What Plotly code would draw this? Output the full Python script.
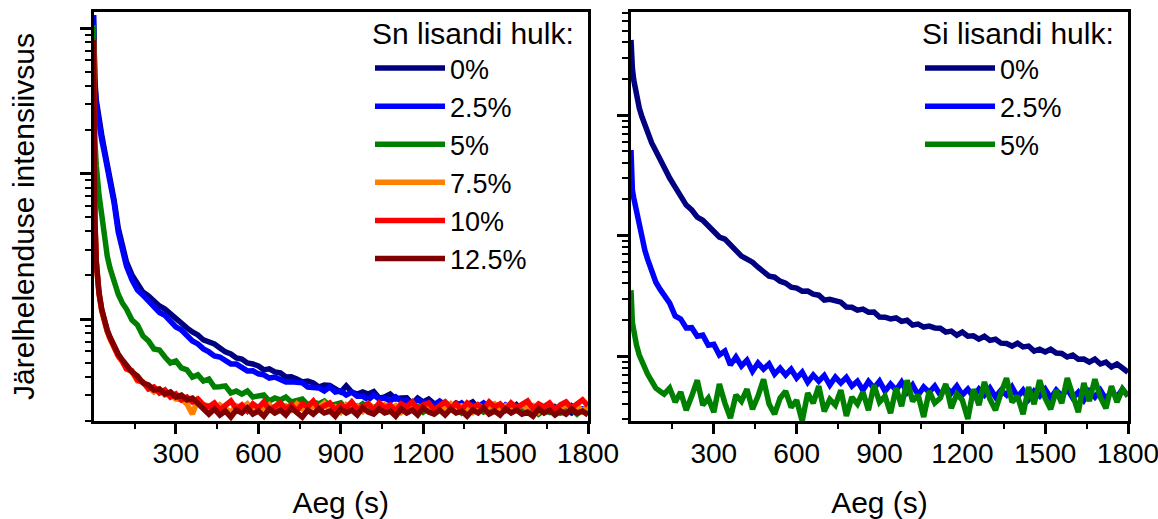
import plotly.graph_objects as go

# Sampling instants (s), shared by every decay curve
TIME_S = [0, 2, 5, 10, 15, 20, 30, 40, 50, 60, 75, 90, 105,
          120, 140, 160, 180, 200, 220, 240, 260, 280, 300, 320, 340, 360, 380, 400,
          420, 440, 460, 480, 500, 520, 540, 560, 580, 600, 620, 640, 660, 680, 700,
          720, 740, 760, 780, 800, 820, 840, 860, 880, 900, 920, 940, 960, 980, 1000,
          1020, 1040, 1060, 1080, 1100, 1120, 1140, 1160, 1180, 1200, 1220, 1240, 1260,
          1280, 1300, 1320, 1340, 1360, 1380, 1400, 1420, 1440, 1460, 1480, 1500, 1520,
          1540, 1560, 1580, 1600, 1620, 1640, 1660, 1680, 1700, 1720, 1740, 1760, 1780, 1800]

# Afterglow intensity (arb. units), Sn-doped samples
SN_0 = [1229, 706, 439, 320, 273, 233, 184, 145, 116, 90.3, 65.8, 42.2, 30.8,
        24.7, 20.1, 17.2, 15.3, 14.4, 13.3, 12.3, 11.7, 10.8, 10.2, 9.25, 8.68, 8.15, 7.77, 7.18,
        6.96, 6.74, 6.33, 5.94, 5.75, 5.40, 5.31, 4.99, 4.91, 4.75, 4.47, 4.54, 4.33, 4.26, 3.99,
        4.01, 3.87, 3.69, 3.75, 3.63, 3.41, 3.52, 3.50, 3.30, 3.15, 3.47, 3.15, 3.05, 3.15, 3.05,
        3.17, 2.86, 2.91, 3.05, 2.82, 2.86, 2.87, 2.61, 2.86, 2.69, 2.82, 2.61, 2.65,
        2.66, 2.49, 2.65, 2.53, 2.57, 2.69, 2.45, 2.44, 2.53, 2.37, 2.53, 2.45, 2.37,
        2.57, 2.37, 2.41, 2.26, 2.49, 2.41, 2.29, 2.49, 2.33, 2.37, 2.26, 2.45, 2.33, 2.41]
SN_2_5 = [1229, 652, 405, 295, 248, 215, 170, 138, 112, 87.5, 62.7, 39.6, 28.9,
          23.1, 18.6, 15.8, 14.6, 13.3, 12.1, 11.1, 10.6, 9.70, 8.82, 8.41, 7.65, 7.07, 6.74, 6.23,
          5.94, 5.57, 5.48, 5.15, 4.91, 4.90, 4.61, 4.40, 4.41, 4.20, 4.13, 3.93, 3.99, 3.81, 3.69,
          3.70, 3.63, 3.64, 3.41, 3.42, 3.36, 3.20, 3.41, 3.15, 3.20, 3.00, 3.15, 2.95, 2.95, 2.78,
          3.00, 2.82, 2.86, 2.73, 2.91, 2.73, 2.74, 2.61, 2.78, 2.65, 2.69, 2.57, 2.73,
          2.57, 2.58, 2.49, 2.65, 2.45, 2.57, 2.49, 2.65, 2.45, 2.49, 2.37, 2.57, 2.45,
          2.49, 2.37, 2.57, 2.41, 2.45, 2.29, 2.49, 2.37, 2.45, 2.33, 2.53, 2.37, 2.41, 2.33]
SN_5 = [1048, 320, 170, 114, 87.5, 71.2, 51.9, 34.9, 27.1, 22.4, 17.7, 14.8, 12.9,
        11.7, 9.85, 9.10, 7.65, 7.07, 6.23, 6.13, 5.48, 4.99, 5.15, 4.61, 4.47, 3.99, 4.13, 3.75,
        3.87, 3.41, 3.42, 3.47, 3.10, 3.20, 3.05, 3.20, 2.91, 2.95, 3.00, 2.73, 2.86, 2.78, 2.91,
        2.69, 2.73, 2.82, 2.57, 2.69, 2.61, 2.73, 2.53, 2.57, 2.65, 2.41, 2.57, 2.45, 2.61, 2.41,
        2.49, 2.53, 2.33, 2.49, 2.41, 2.57, 2.33, 2.41, 2.49, 2.29, 2.45, 2.37, 2.53,
        2.33, 2.41, 2.45, 2.26, 2.41, 2.33, 2.49, 2.29, 2.37, 2.45, 2.26, 2.41, 2.33,
        2.49, 2.29, 2.33, 2.41, 2.22, 2.37, 2.29, 2.45, 2.26, 2.33, 2.41, 2.22, 2.37, 2.29]
SN_7_5 = [827, 141, 46.5, 24.3, 18.3, 14.8, 11.3, 9.40, 8.15, 7.29, 6.23, 5.57, 5.07,
          4.54, 4.33, 3.75, 3.69, 3.36, 3.15, 3.30, 3.00, 3.05, 2.82, 2.80, 2.61, 2.22, 2.78, 2.57,
          2.53, 2.37, 2.57, 2.41, 2.29, 2.53, 2.45, 2.61, 2.33, 2.49, 2.41, 2.57, 2.29, 2.45, 2.53,
          2.37, 2.61, 2.41, 2.33, 2.53, 2.45, 2.65, 2.37, 2.49, 2.29, 2.57, 2.41, 2.53, 2.33, 2.61,
          2.45, 2.37, 2.57, 2.41, 2.53, 2.29, 2.49, 2.61, 2.37, 2.45, 2.57, 2.33, 2.49,
          2.41, 2.61, 2.37, 2.53, 2.45, 2.29, 2.57, 2.41, 2.49, 2.61, 2.37, 2.53, 2.33,
          2.45, 2.57, 2.41, 2.53, 2.29, 2.49, 2.61, 2.37, 2.45, 2.57, 2.41, 2.53, 2.33, 2.49]
SN_10 = [827, 145, 47.3, 24.7, 18.6, 15.1, 11.5, 9.56, 8.28, 7.41, 6.33, 5.57, 5.15,
         4.54, 4.40, 3.81, 3.69, 3.30, 3.41, 3.10, 3.25, 2.91, 3.05, 2.78, 2.91, 2.69, 2.82, 2.57,
         2.49, 2.65, 2.37, 2.53, 2.73, 2.41, 2.57, 2.33, 2.61, 2.45, 2.69, 2.37, 2.53, 2.65, 2.41,
         2.57, 2.33, 2.61, 2.49, 2.73, 2.41, 2.53, 2.65, 2.37, 2.57, 2.45, 2.69, 2.41, 2.53, 2.61,
         2.37, 2.65, 2.45, 2.57, 2.33, 2.61, 2.49, 2.69, 2.41, 2.57, 2.65, 2.37, 2.53,
         2.69, 2.45, 2.61, 2.37, 2.65, 2.49, 2.57, 2.41, 2.69, 2.49, 2.61, 2.37, 2.65,
         2.45, 2.57, 2.73, 2.41, 2.61, 2.49, 2.65, 2.37, 2.57, 2.69, 2.45, 2.61, 2.78, 2.53]
SN_12_5 = [827, 150, 48.8, 25.1, 18.9, 15.3, 11.7, 9.70, 8.41, 7.53, 6.43, 5.75, 5.23,
           4.83, 4.33, 4.06, 3.63, 3.52, 3.25, 3.30, 3.05, 3.15, 2.91, 3.00, 2.78, 2.86, 2.61, 2.37,
           2.22, 2.41, 2.19, 2.33, 2.12, 2.37, 2.26, 2.45, 2.22, 2.33, 2.15, 2.41, 2.26, 2.37, 2.19,
           2.45, 2.29, 2.12, 2.37, 2.22, 2.41, 2.26, 2.33, 2.15, 2.41, 2.26, 2.37, 2.19, 2.45, 2.29,
           2.22, 2.41, 2.26, 2.33, 2.15, 2.41, 2.26, 2.37, 2.19, 2.45, 2.29, 2.22, 2.37,
           2.19, 2.41, 2.26, 2.33, 2.15, 2.37, 2.26, 2.45, 2.22, 2.33, 2.19, 2.41, 2.26,
           2.37, 2.22, 2.29, 2.15, 2.41, 2.26, 2.37, 2.19, 2.33, 2.22, 2.41, 2.26, 2.33, 2.19]

# Afterglow intensity (arb. units), Si-doped samples
SI_0 = [4193, 2972, 2455, 1952, 1675, 1411, 1143, 963, 826, 709, 586, 503, 423,
        370, 300, 252, 217, 179, 163, 142, 134, 120, 109, 97.2, 93.4, 83.3, 77.1, 67.5,
        63.7, 60.1, 54.6, 49.6, 46.0, 45.1, 41.8, 40.3, 37.3, 36.6, 34.5, 34.6, 32.6, 32.0, 29.1,
        29.6, 28.6, 28.0, 25.5, 25.4, 24.0, 24.5, 23.1, 23.2, 21.1, 21.0, 20.3, 20.7, 19.4, 19.8,
        18.1, 18.4, 17.4, 17.7, 17.1, 17.0, 15.8, 16.1, 14.9, 15.8, 14.6, 14.7, 13.8,
        14.6, 13.5, 13.8, 12.8, 12.7, 12.1, 12.8, 11.9, 12.1, 11.0, 11.4, 10.8, 11.4,
        10.6, 10.5, 9.81, 10.2, 9.42, 9.45, 8.89, 9.42, 8.59, 8.89, 8.11, 8.59, 7.96, 7.34]
SI_2_5 = [512, 318, 238, 205, 179, 154, 115, 91.6, 75.7, 63.7, 51.6, 41.0, 35.9,
          31.4, 27.5, 21.5, 20.3, 17.1, 17.2, 14.6, 14.9, 12.3, 12.5, 10.2, 11.0, 8.43, 9.81, 8.27,
          9.24, 7.48, 8.75, 7.78, 8.59, 7.09, 7.93, 6.96, 7.78, 6.56, 7.34, 6.06, 6.96, 6.18, 6.90,
          5.75, 6.69, 5.97, 6.65, 5.64, 6.18, 5.21, 6.15, 5.42, 6.18, 5.11, 5.86, 5.21, 6.06, 5.01,
          5.75, 4.75, 5.53, 5.01, 5.64, 4.75, 5.53, 4.93, 5.64, 4.75, 5.31, 4.57, 5.31,
          4.75, 5.42, 4.57, 5.21, 4.75, 5.53, 4.57, 5.21, 4.38, 5.11, 4.66, 5.31, 4.48,
          5.21, 4.66, 5.31, 4.48, 5.01, 4.30, 5.11, 4.57, 5.21, 4.38, 5.11, 4.57, 5.31, 4.66]
SI_5 = [35.2, 24.0, 19.0, 16.4, 13.5, 12.3, 10.2, 8.89, 7.78, 7.09, 6.18, 5.42, 5.11,
        4.84, 5.42, 4.15, 5.03, 3.55, 4.65, 6.30, 3.92, 4.47, 3.42, 5.86, 4.07, 3.06, 4.75, 4.22,
        5.31, 3.62, 4.65, 6.42, 3.99, 3.29, 4.47, 5.12, 3.76, 4.30, 2.88, 4.93, 4.07, 5.63, 3.48,
        4.38, 3.92, 5.21, 3.18, 4.56, 3.99, 5.03, 3.55, 5.75, 4.15, 4.65, 3.35, 5.42, 3.84, 6.30,
        4.22, 4.75, 3.12, 5.12, 4.07, 4.47, 5.86, 3.69, 4.84, 4.30, 3.00, 5.31, 3.92,
        6.09, 4.38, 3.55, 4.93, 6.55, 4.15, 4.65, 3.29, 5.52, 3.99, 6.30, 4.47, 3.62,
        5.21, 4.07, 6.55, 4.75, 3.42, 5.97, 4.22, 6.42, 4.56, 3.69, 5.63, 4.15, 5.31, 4.65]

X_TICKS = [300, 600, 900, 1200, 1500, 1800]
X_TICK_LABELS = ["300", "600", "900", "1200", "1500", "1800"]
X_MINOR = [150, 450, 750, 1050, 1350, 1650]
Y_MAJOR = [10, 100, 1000]
Y_MINOR = [m * d for d in (1, 10, 100, 1000) for m in range(2, 10)]

NAVY, BLUE, GREEN = "#000080", "#0000FF", "#008000"
ORANGE, RED, DARKRED = "#FF8000", "#FF0000", "#800000"
FONT = "Liberation Sans, Arial, sans-serif"

W, H = 1158, 519
LINE_W = 5.5

fig = go.Figure()

sn_traces = [("0%", SN_0, NAVY), ("2.5%", SN_2_5, BLUE), ("5%", SN_5, GREEN),
             ("7.5%", SN_7_5, ORANGE), ("10%", SN_10, RED), ("12.5%", SN_12_5, DARKRED)]
for name, vals, color in sn_traces:
    fig.add_trace(go.Scatter(x=TIME_S, y=vals, mode="lines", name=name,
                             line=dict(color=color, width=LINE_W),
                             xaxis="x", yaxis="y", legend="legend"))

si_traces = [("0%", SI_0, NAVY), ("2.5%", SI_2_5, BLUE), ("5%", SI_5, GREEN)]
for name, vals, color in si_traces:
    fig.add_trace(go.Scatter(x=TIME_S, y=vals, mode="lines", name=name,
                             line=dict(color=color, width=LINE_W),
                             xaxis="x2", yaxis="y2", legend="legend2"))

frame = dict(showline=True, linewidth=3, linecolor="black", mirror=True,
             ticks="outside", tickwidth=3, tickcolor="black",
             showgrid=False, zeroline=False, automargin=False)

y_dom = [1 - 421 / H, 1 - 12 / H]


def x_axis(x0, x1, anchor):
    return dict(domain=[x0 / W, x1 / W], range=[0, 1800], anchor=anchor,
                tickmode="array", tickvals=X_TICKS, ticktext=X_TICK_LABELS,
                ticklen=10, tickfont=dict(size=28), ticklabelstandoff=-5,
                ticklabeloverflow="allow",
                minor=dict(tickvals=X_MINOR, ticks="outside", ticklen=5,
                           tickwidth=2, tickcolor="black"),
                title=dict(text="Aeg (s)", font=dict(size=30), standoff=30),
                **frame)


def y_axis(lo, hi, anchor, title=None):
    ax = dict(domain=y_dom, type="log", range=[lo, hi], anchor=anchor,
              tickmode="array", tickvals=Y_MAJOR, showticklabels=False, ticklen=11,
              minor=dict(tickvals=Y_MINOR, ticks="outside", ticklen=6,
                         tickwidth=2, tickcolor="black"),
              **frame)
    if title:
        ax["title"] = dict(text=title, font=dict(size=30), standoff=37)
    return ax


legend_common = dict(xanchor="left", yanchor="top", bgcolor="rgba(0,0,0,0)",
                     borderwidth=0, font=dict(size=27), itemwidth=70,
                     tracegroupgap=0)

fig.update_layout(
    width=W, height=H, autosize=False,
    margin=dict(l=0, r=0, t=0, b=0, autoexpand=False),
    paper_bgcolor="white", plot_bgcolor="white",
    font=dict(family=FONT, size=28, color="black"),
    xaxis=x_axis(93.5, 588, "y"),
    yaxis=y_axis(0.299, 3.110, "x", "Järelhelenduse intensiivsus"),
    xaxis2=x_axis(631, 1128, "y2"),
    yaxis2=y_axis(0.461, 3.855, "x2"),
    legend=dict(x=370 / W, y=1 - 5 / H,
                title=dict(text="Sn lisandi hulk:", font=dict(size=30)),
                **legend_common),
    legend2=dict(x=920 / W, y=1 - 5 / H,
                 title=dict(text="Si lisandi hulk:", font=dict(size=30)),
                 **legend_common),
    showlegend=True,
)

fig.write_html("out.html")
